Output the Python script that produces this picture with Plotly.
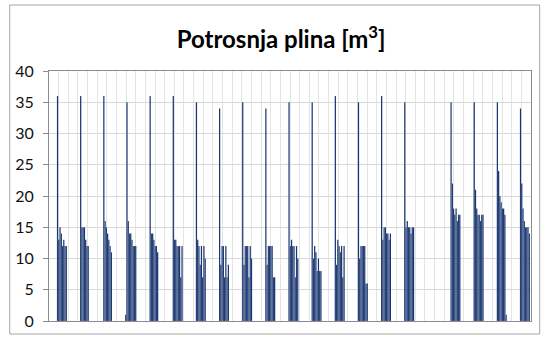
import plotly.graph_objects as go

# Billing periods (one cluster of readings per period)
periods = list(range(1, 22))

# Gas readings per slot within each period [m3]
r0 = [0, 0, 0, 1, 0, 0, 0, 0, 0, 0, 0, 0, 0, 0, 0, 0, 0, 0, 0, 0, 0]
r1 = [36, 36, 36, 35, 36, 36, 35, 34, 35, 34, 35, 35, 36, 35, 36, 35, 0, 35, 35, 35, 34]
r2 = [13, 15, 16, 16, 14, 13, 13, 9, 9, 9, 12, 10, 9, 10, 13, 15, 0, 22, 21, 24, 22]
r3 = [15, 15, 15, 14, 14, 13, 12, 12, 12, 12, 13, 12, 13, 12, 15, 16, 0, 18, 18, 20, 18]
r4 = [14, 15, 14, 14, 13, 12, 9, 12, 12, 12, 12, 11, 12, 12, 15, 15, 0, 17, 17, 19, 16]
r5 = [12, 13, 13, 13, 12, 12, 12, 7, 12, 12, 12, 8, 11, 12, 14, 15, 0, 18, 17, 18, 15]
r6 = [13, 12, 12, 12, 12, 12, 7, 12, 7, 12, 7, 10, 12, 12, 14, 14, 0, 16, 16, 18, 15]
r7 = [12, 12, 11, 12, 11, 7, 12, 7, 12, 7, 12, 8, 7, 6, 13, 15, 0, 17, 17, 17, 15]
r8 = [12, 0, 0, 12, 0, 12, 10, 9, 10, 7, 10, 8, 12, 6, 14, 15, 0, 17, 17, 1, 14]

y_ticks = [0, 5, 10, 15, 20, 25, 30, 35, 40]

series = [r0, r1, r2, r3, r4, r5, r6, r7, r8]
BAR = "#012061"
AXIS = "#8c8c8c"
FONT = "Lato"

# x range of the plot area and the fine vertical grid (50 equal steps)
X0, X1 = 0.469, 21.29
GRID_STEP = (X1 - X0) / 50

fig = go.Figure()
for vals in series:
    fig.add_bar(
        x=periods,
        y=vals,
        marker=dict(color=BAR, line=dict(width=0.15, color="white")),
        showlegend=False,
        hoverinfo="skip",
    )

fig.update_layout(
    width=548,
    height=341,
    margin=dict(l=49, r=17, t=71, b=20),
    paper_bgcolor="white",
    plot_bgcolor="white",
    barmode="group",
    bargap=0.514,
    bargroupgap=0,
    title=dict(
        text="Potrosnja plina [m<sup>3</sup>]",
        font=dict(family=FONT, size=24, color="#000000", weight=700),
        x=0.513,
        xanchor="center",
        xref="container",
        y=0.883,
        yanchor="middle",
        yref="container",
    ),
    xaxis=dict(
        range=[X0, X1],
        tick0=X0,
        dtick=GRID_STEP,
        showticklabels=False,
        ticks="",
        showgrid=True,
        gridcolor="#e4e4e4",
        gridwidth=1,
        showline=True,
        linecolor=AXIS,
        linewidth=1,
        mirror=True,
        zeroline=False,
    ),
    yaxis=dict(
        range=[0, 40],
        tickvals=y_ticks,
        ticktext=[str(v) for v in y_ticks],
        ticks="outside",
        ticklen=5,
        tickcolor=AXIS,
        ticklabelstandoff=6,
        tickfont=dict(family=FONT, size=16, color="#111111"),
        showgrid=True,
        gridcolor="#d9d9d9",
        gridwidth=1,
        showline=True,
        linecolor=AXIS,
        linewidth=1,
        mirror=True,
        zeroline=False,
    ),
    shapes=[
        dict(
            type="rect",
            xref="paper",
            yref="paper",
            x0=-0.0815,
            x1=1.018,
            y0=-0.052,
            y1=1.264,
            line=dict(color="#a6a6a6", width=1),
            fillcolor="rgba(0,0,0,0)",
            layer="below",
        )
    ],
)

fig.write_html("out.html")
